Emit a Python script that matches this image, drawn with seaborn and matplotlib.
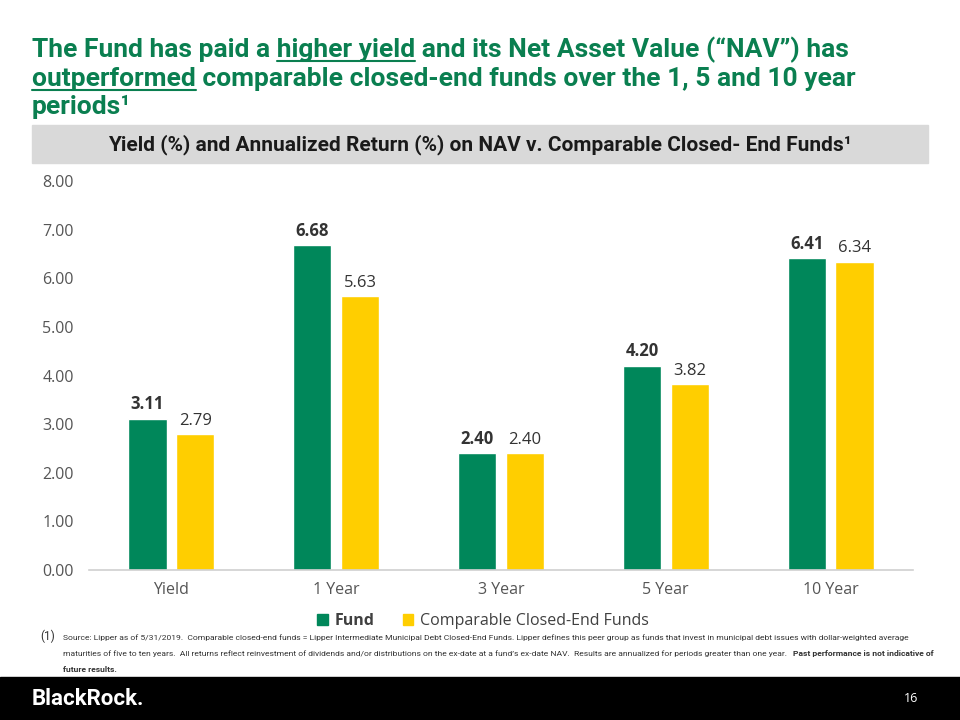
import pandas as pd
import matplotlib
matplotlib.use("Agg")
import matplotlib.pyplot as plt
from matplotlib.patches import Rectangle
from matplotlib.lines import Line2D
import seaborn as sns

# chart values
periods = ["Yield", "1 Year", "3 Year", "5 Year", "10 Year"]
fund = [3.11, 6.68, 2.40, 4.20, 6.41]
comparable = [2.79, 5.63, 2.40, 3.82, 6.34]
series_names = ["Fund", "Comparable Closed-End Funds"]

GREEN = "#00875A"
TITLE_GREEN = "#0A7F50"
YELLOW = "#FFCE00"
BAND = "#D9D9D9"

df = pd.DataFrame({
    "period": periods * 2,
    "value": fund + comparable,
    "series": [series_names[0]] * len(periods) + [series_names[1]] * len(periods),
})

sns.set_theme(style="white")
plt.rcParams["font.family"] = ["Open Sans", "DejaVu Sans"]

fig = plt.figure(figsize=(9.6, 7.2), dpi=100)
ax = fig.add_axes([89 / 960, 1 - 570 / 720, (913 - 89) / 960, (570 - 181) / 720])

sns.barplot(data=df, x="period", y="value", hue="series", order=periods,
            hue_order=series_names, palette=[GREEN, YELLOW], width=0.58, gap=0.2,
            saturation=1, ax=ax, legend=False)

ax.set_xlim(-0.5, 4.5)
ax.set_ylim(0, 8)
ax.set_yticks(range(0, 9))
ax.set_yticklabels([f"{v:.2f}" for v in range(0, 9)])
ax.set_xlabel("")
ax.set_ylabel("")
ax.tick_params(axis="both", length=0, labelsize=11.5, colors="#555555")
ax.tick_params(axis="y", pad=11)
ax.tick_params(axis="x", pad=9)
for s in ["top", "right", "left"]:
    ax.spines[s].set_visible(False)
ax.spines["bottom"].set_color("#D0D0D0")
ax.spines["bottom"].set_linewidth(1.2)

# value labels
ax.bar_label(ax.containers[0], fmt="%.2f", padding=4, fontsize=12,
             fontweight="bold", color="#333333")
ax.bar_label(ax.containers[1], fmt="%.2f", padding=4, fontsize=12,
             color="#333333")

# legend
handles = [Rectangle((0, 0), 1, 1, color=GREEN), Rectangle((0, 0), 1, 1, color=YELLOW)]
leg = fig.legend(handles, series_names, loc="center", bbox_to_anchor=(0.503, 1 - 621 / 720),
                 ncol=2, frameon=False, fontsize=11.5, handlelength=0.65, handleheight=0.65,
                 handletextpad=0.4, columnspacing=1.8, labelcolor="#404040")
leg.get_texts()[0].set_fontweight("bold")

# header
title_font = ["Roboto", "DejaVu Sans"]
fig.canvas.draw()
renderer = fig.canvas.get_renderer()


def text_width(s, **kw):
    t = fig.text(0, 0, s, **kw)
    w = t.get_window_extent(renderer).width
    t.remove()
    return w / fig.bbox.width


def underlined(x, y, full, word, **kw):
    fig.text(x, y, full, va="baseline", **kw)
    idx = full.index(word)
    end = text_width(full[:idx + len(word)], **kw)
    start = end - text_width(word, **kw)
    yline = y - 4 / 720
    fig.add_artist(Line2D([x + start, x + end], [yline, yline], color=kw["color"],
                          lw=1.5, transform=fig.transFigure))


tkw = dict(fontsize=19, fontweight="bold", color=TITLE_GREEN, family=title_font)
underlined(32 / 960, 1 - 57 / 720,
           "The Fund has paid a higher yield and its Net Asset Value (\u201cNAV\u201d) has",
           "higher yield", **tkw)
underlined(32 / 960, 1 - 86 / 720,
           "outperformed comparable closed-end funds over the 1, 5 and 10 year",
           "outperformed", **tkw)
fig.text(32 / 960, 1 - 114 / 720, "periods\u00b9", va="baseline", **tkw)

fig.add_artist(Rectangle((32 / 960, 1 - 163 / 720), 896 / 960, 38 / 720,
                         transform=fig.transFigure, color=BAND, zorder=0))
fig.text(0.5, 1 - 145 / 720,
         "Yield (%) and Annualized Return (%) on NAV v. Comparable Closed- End Funds\u00b9",
         ha="center", va="center", fontsize=15, fontweight="bold", color="#1A1A1A",
         family=title_font)

# footnote: size chosen so the first line spans the same width as in the slide
foot1 = ("Source: Lipper as of 5/31/2019.  Comparable closed-end funds = Lipper Intermediate "
         "Municipal Debt Closed-End Funds. Lipper defines this peer group as funds that invest in "
         "municipal debt issues with dollar-weighted average")
line2 = ("maturities of five to ten years.  All returns reflect reinvestment of dividends and/or "
         "distributions on the ex-date at a fund\u2019s ex-date NAV.  Results are annualized for "
         "periods greater than one year.")
fx = 63 / 960
base = text_width(foot1, fontsize=10, family=title_font)
fsize = 10 * (908 / 960 - fx) / base
fkw = dict(fontsize=fsize, color="#333333", family=title_font, va="baseline")
fig.text(40 / 960, 1 - 640 / 720, "(1)", fontsize=8.5, color="#333333", family=title_font,
         va="baseline")
fig.text(fx, 1 - 640 / 720, foot1, **fkw)
fig.text(fx, 1 - 656 / 720, line2, **fkw)
bx = fx + text_width(line2, **fkw) + 6 / 960
fig.text(bx, 1 - 656 / 720, "Past performance is not indicative of", fontweight="bold", **fkw)
fig.text(fx, 1 - 672 / 720, "future results.", fontweight="bold", **fkw)

# footer bar
fig.add_artist(Rectangle((0, 0), 1, 43 / 720, transform=fig.transFigure, color="black", zorder=0))
fig.text(32 / 960, 1 - 699 / 720, "BlackRock.", color="white", fontsize=16, fontweight="bold",
         va="center", family=["Roboto", "DejaVu Sans"])
fig.text(918 / 960, 1 - 698 / 720, "16", color="white", fontsize=9, va="center", ha="right")

fig.savefig("out.png", dpi=100)
